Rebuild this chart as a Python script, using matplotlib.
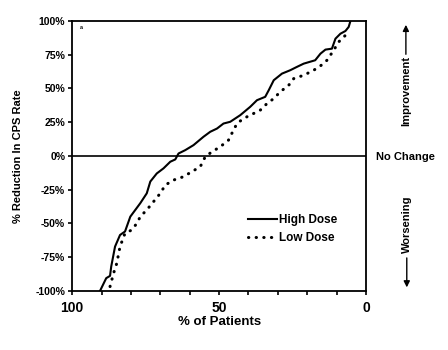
import numpy as np
import matplotlib
matplotlib.use("Agg")
import matplotlib.pyplot as plt

plt.rcParams["font.family"] = ["Liberation Sans", "DejaVu Sans"]

# % of patients (x, reversed axis) and % reduction in CPS rate (y)
high_x = [90.5, 88.4, 87.1, 86.7, 85.4, 83.7, 82.0, 80.2, 78.5, 76.8, 74.6, 73.4,
          71.2, 68.9, 66.6, 64.9, 63.8, 61.5, 58.7, 55.3, 53.0, 50.7, 48.5, 46.2,
          42.8, 39.4, 37.1, 34.3, 33.1, 31.4, 28.6, 25.8, 23.5, 21.2, 17.3, 15.5,
          13.8, 11.6, 10.4, 8.7, 7.0, 5.9, 5.3]
high_y = [-100, -90.6, -88.9, -82, -67.2, -58.6, -56, -45, -40, -35, -27.7, -19,
          -13, -9.2, -4.3, -2.6, 1.8, 4.3, 8, 14.2, 17.9, 20.3, 24, 25.3,
          30.2, 36.4, 41.3, 43.8, 48.7, 56.1, 61, 63.5, 66, 68.4, 70.9, 75.8,
          78.8, 79.5, 86.9, 90.6, 92.6, 95.6, 100]

low_x = [87.1, 85.9, 84.8, 83.7, 82.0, 79.7, 78.0, 76.8, 74.6, 72.3, 70.0, 68.3,
         65.5, 62.1, 59.3, 56.4, 54.7, 52.4, 49.6, 46.8, 45.1, 43.9, 41.7, 38.3,
         36.0, 33.7, 31.4, 29.2, 26.3, 24.6, 21.2, 17.8, 14.4, 13.3, 11.0, 9.3,
         7.0, 5.9]
low_y = [-96.8, -87, -79.5, -67.2, -57.3, -54.9, -50, -45, -40, -33.9, -27.7, -21.6,
         -17.9, -15.4, -11.7, -8, -0.6, 3.1, 6.8, 11.7, 19.1, 24, 27.7, 31.4,
         33.9, 38.8, 42.5, 47.5, 52.4, 57.3, 59.8, 63.5, 68.4, 70.9, 78.3, 84.5,
         89.4, 93.1]

y_ticks = [100, 75, 50, 25, 0, -25, -50, -75, -100]
y_labels = ["100%", "75%", "50%", "25%", "0%", "-25%", "-50%", "-75%", "-100%"]

fig = plt.figure(figsize=(4.48, 3.5), dpi=100)
ax = fig.add_axes([0.161, 0.169, 0.656, 0.771])

ax.plot(high_x, high_y, color="black", linewidth=1.5, label="High Dose")
ax.plot(low_x, low_y, color="black", linewidth=2.2, linestyle=(0, (0.1, 2.4)),
        dash_capstyle="round", label="Low Dose")
ax.axhline(0, color="black", linewidth=1.2)

ax.set_xlim(100, 0)
ax.set_ylim(-100, 100)
ax.set_xticks([100, 50, 0])
ax.set_xticklabels(["100", "50", "0"], fontsize=10, fontweight="bold")
ax.set_xticks(np.arange(0, 101, 10), minor=True)
ax.set_yticks(y_ticks)
ax.set_yticklabels(y_labels, fontsize=7.5, fontweight="bold")
ax.tick_params(axis="both", which="both", direction="out", length=3, width=1.2, pad=2)
ax.tick_params(axis="x", pad=4)
for s in ax.spines.values():
    s.set_linewidth(1.3)

ax.set_xlabel("% of Patients", fontsize=9.5, fontweight="bold", labelpad=1)
ax.set_ylabel("% Reduction In CPS Rate", fontsize=8, fontweight="bold", labelpad=9)

ax.text(97.5, 94, "a", fontsize=4, fontweight="bold")

ax.legend(loc="upper left", bbox_to_anchor=(0.58, 0.305), frameon=False,
          handlelength=2.4, handletextpad=0.15, labelspacing=0.45, borderpad=0,
          prop={"weight": "bold", "size": 8.5})

# right-hand annotations
fig.text(0.905, 0.551, "No Change", fontsize=8, fontweight="bold",
         ha="center", va="center")
fig.text(0.906, 0.739, "Improvement", fontsize=8, fontweight="bold",
         rotation=90, ha="center", va="center")
fig.text(0.908, 0.36, "Worsening", fontsize=8, fontweight="bold",
         rotation=90, ha="center", va="center")
ax.annotate("", xy=(0.906, 0.937), xytext=(0.906, 0.837),
            xycoords="figure fraction",
            arrowprops=dict(arrowstyle="-|>", color="black", lw=1, mutation_scale=9))
ax.annotate("", xy=(0.908, 0.171), xytext=(0.908, 0.271),
            xycoords="figure fraction",
            arrowprops=dict(arrowstyle="-|>", color="black", lw=1, mutation_scale=9))

fig.savefig("out.png", dpi=100)
